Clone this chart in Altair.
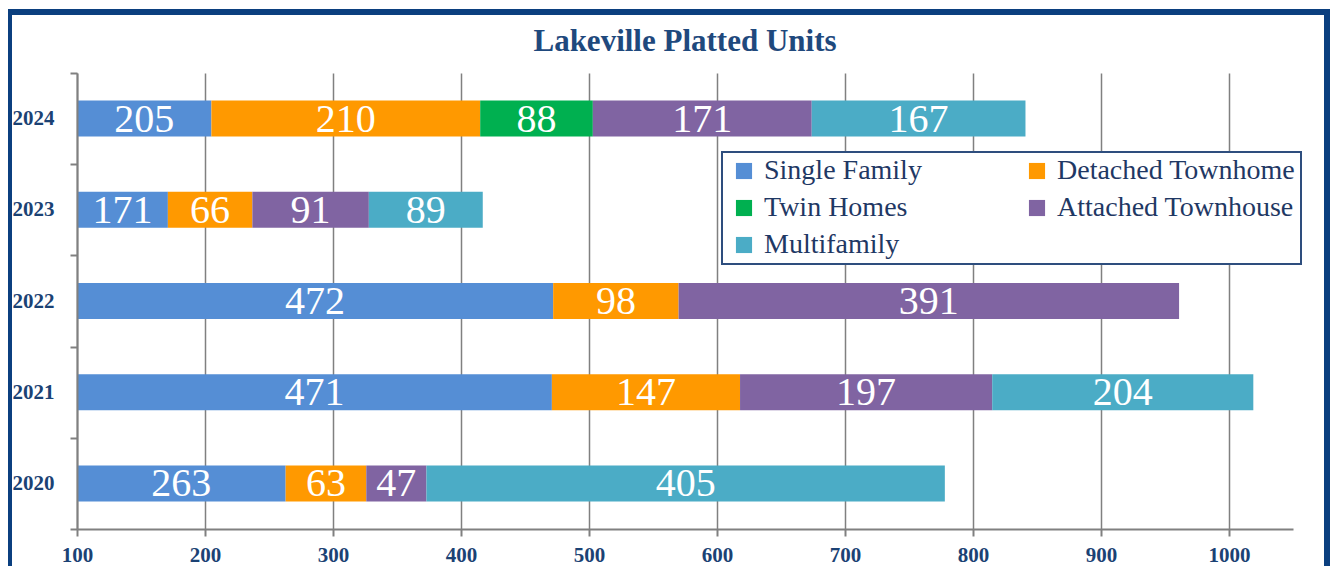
import altair as alt
import pandas as pd

years = ["2024", "2023", "2022", "2021", "2020"]
series = ["Single Family", "Detached Townhome", "Twin Homes", "Attached Townhouse", "Multifamily"]
colors = ["#558ed5", "#ff9900", "#00b050", "#8064a2", "#4bacc6"]
single_family = [205, 171, 472, 471, 263]
detached_townhome = [210, 66, 98, 147, 63]
twin_homes = [88, 0, 0, 0, 0]
attached_townhouse = [171, 91, 391, 197, 47]
multifamily = [167, 89, 0, 204, 405]
x_ticks = [100, 200, 300, 400, 500, 600, 700, 800, 900, 1000]
x_domain = [100, 1050]

series_values = [single_family, detached_townhome, twin_homes, attached_townhouse, multifamily]
rows = []
for i, yr in enumerate(years):
    start = 0
    for s, vals in zip(series, series_values):
        v = vals[i]
        if v > 0:
            end = start + v
            rows.append(dict(year=yr, series=s, value=v, start=start, end=end,
                             mid=(max(start, x_domain[0]) + end) / 2))
            start = end
df = pd.DataFrame(rows)
frame_df = pd.DataFrame({"k": [0]})

navy = "#1b4274"
grey = "#808080"
frame_color = "#0b3f7f"
serif = "Liberation Serif"

x_enc = alt.X("start:Q", scale=alt.Scale(domain=x_domain, nice=False, zero=False),
              axis=alt.Axis(values=x_ticks, title=None, grid=True, gridColor=grey, gridWidth=1.5,
                            domainColor=grey, domainWidth=2, tickColor=grey, tickWidth=2, tickSize=7,
                            labelFont=serif, labelFontSize=21, labelFontWeight="bold",
                            labelColor=navy, labelPadding=8, labelFlush=False, format="d", zindex=0))
y_enc = alt.Y("year:N", sort=years, scale=alt.Scale(paddingInner=0, paddingOuter=0),
              axis=alt.Axis(title=None, tickBand="extent", domainColor=grey, domainWidth=2,
                            tickColor=grey, tickWidth=2, tickSize=7, labelFont=serif,
                            labelFontSize=21, labelFontWeight="bold", labelColor=navy,
                            labelPadding=16, zindex=1))

bars = alt.Chart(df).mark_bar(size=36, clip=True).encode(
    x=x_enc,
    x2="end:Q",
    y=y_enc,
    color=alt.Color("series:N", sort=series,
                    scale=alt.Scale(domain=series, range=colors),
                    legend=alt.Legend(title=None, orient="none", legendX=645, legendY=79,
                                      columns=2, direction="horizontal",
                                      symbolType="square", symbolSize=260, symbolStrokeWidth=0,
                                      labelFont=serif, labelFontSize=28, labelColor="#1f3864",
                                      labelLimit=400, columnPadding=98, rowPadding=9,
                                      padding=5, fillColor="white", strokeColor="#2e4e7e",
                                      symbolOffset=3, labelOffset=6)),
)

labels = alt.Chart(df).mark_text(font=serif, fontSize=40, color="white", baseline="middle",
                                 align="center", dy=1).encode(
    x="mid:Q",
    y=alt.Y("year:N", sort=years),
    text="value:Q",
)

left = alt.Chart(frame_df).mark_rule(color=frame_color, strokeWidth=6).encode(
    x=alt.value(-68), y=alt.value(-64), y2=alt.value(520))
top = alt.Chart(frame_df).mark_rule(color=frame_color, strokeWidth=6).encode(
    x=alt.value(-71), x2=alt.value(1253), y=alt.value(-61))
right = alt.Chart(frame_df).mark_rule(color=frame_color, strokeWidth=6).encode(
    x=alt.value(1250), y=alt.value(-64), y2=alt.value(520))

chart = alt.layer(bars, labels, left, top, right).properties(
    width=1216, height=456,
    autosize=alt.AutoSizeParams(type="none"),
    padding={"left": 69, "top": 65, "right": 37, "bottom": 37},
    title=alt.TitleParams("Lakeville Platted Units", font=serif, fontSize=31, fontWeight="bold",
                          color="#1f497d", anchor="middle", frame="group",
                          baseline="alphabetic", offset=0, dy=76),
).configure_view(stroke=None).configure_legend(strokeWidth=2)

chart.save("out.html", embed_options={"renderer": "svg", "actions": False})
